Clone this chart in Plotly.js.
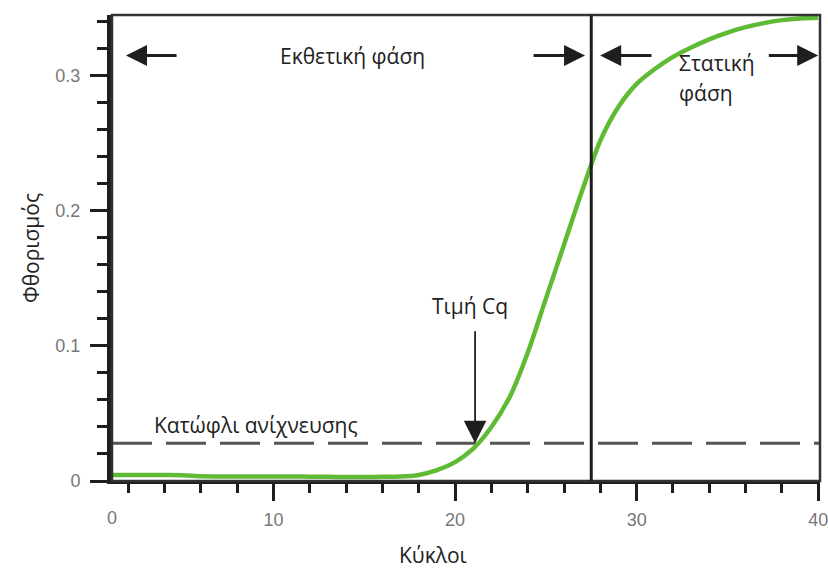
<!DOCTYPE html>
<html>
<head>
<meta charset="utf-8">
<script src="https://cdn.plot.ly/plotly-3.0.1.min.js"></script>
<style>
html,body{margin:0;padding:0;background:#fff;}
#chart{width:828px;height:570px;}
</style>
</head>
<body>
<div id="chart"></div>
<script>
// ---- data ----
const cycles = [1,2,3,4,5,6,7,8,9,10,11,12,13,14,15,16,17,18,19,20,
                21,22,23,24,25,26,27,28,29,30,31,32,33,34,35,36,37,38,39,40];
const fluorescence = [0.0044,0.0044,0.0044,0.0044,0.0043,0.0035,0.0034,0.0034,0.0033,0.0033,
                      0.0033,0.0032,0.0031,0.0030,0.0030,0.0031,0.0033,0.0045,0.0080,0.0140,
                      0.0240,0.0400,0.0620,0.0950,0.1350,0.1750,0.2150,0.2520,0.2770,0.2940,
                      0.3050,0.3140,0.3210,0.3270,0.3320,0.3360,0.3390,0.3412,0.3425,0.3430];
const thresholdLevel = 0.028;
const phaseBoundary = 27.5;
const cqValue = 21.1;
const xTitle = 'Κύκλοι';
const yTitle = 'Φθορισμός';
const xZeroLabel = '0';
const labels = {
  exp: 'Εκθετική φάση',
  plateau1: 'Στατική',
  plateau2: 'φάση',
  cq: 'Τιμή Cq',
  threshold: 'Κατώφλι ανίχνευσης'
};

const dark = '#1e1e1e';
const textFont = {family: '"Open Sans", "Noto Sans", sans-serif', size: 21, color: '#222'};
const tickFont = {family: '"Liberation Sans", Arial, sans-serif', size: 18, color: '#777'};
const arrowY = 0.315;

function arrow(tipX, tailX, y, opts) {
  return Object.assign({
    x: tipX, y: y, ax: tailX, ay: y,
    xref: 'x', yref: 'y', axref: 'x', ayref: 'y',
    text: '', showarrow: true,
    arrowhead: 2, arrowsize: 1.4, arrowwidth: 3, arrowcolor: dark,
    standoff: 0, startstandoff: 0
  }, opts || {});
}

const trace = {
  x: cycles, y: fluorescence,
  type: 'scatter', mode: 'lines',
  line: {color: '#5fbb33', width: 4.5, shape: 'spline', smoothing: 0.8},
  hoverinfo: 'skip', showlegend: false
};

const layout = {
  width: 828, height: 570,
  margin: {l: 112, r: 8, t: 15, b: 89},
  paper_bgcolor: '#fff', plot_bgcolor: '#fff',
  showlegend: false,
  xaxis: {
    range: [1.1, 40.1],
    tickmode: 'linear', tick0: 0, dtick: 10,
    ticks: 'outside', ticklen: 17, tickwidth: 3, tickcolor: dark,
    minor: {tick0: 0, dtick: 2, ticks: 'outside', ticklen: 9, tickwidth: 3, tickcolor: dark},
    showline: true, linewidth: 3, linecolor: dark,
    showgrid: false, zeroline: false,
    tickfont: tickFont,
    ticklabelstandoff: 3,
    ticklabeloverflow: 'allow'
  },
  yaxis: {
    range: [0, 0.345],
    tickmode: 'linear', tick0: 0, dtick: 0.1,
    ticks: 'outside', ticklen: 17, tickwidth: 3, tickcolor: dark,
    minor: {tick0: 0, dtick: 0.02, ticks: 'outside', ticklen: 10, tickwidth: 3, tickcolor: dark},
    showline: true, linewidth: 5, linecolor: dark,
    showgrid: false, zeroline: false,
    tickfont: tickFont,
    ticklabelstandoff: 6,
    title: {text: yTitle, font: textFont, standoff: 12}
  },
  shapes: [
    {type: 'rect', xref: 'paper', yref: 'paper', x0: 0, x1: 1, y0: 0, y1: 1,
     line: {color: '#333', width: 2.5}, layer: 'above'},
    {type: 'line', xref: 'x', yref: 'paper', x0: phaseBoundary, x1: phaseBoundary, y0: 0, y1: 1,
     line: {color: dark, width: 3}, layer: 'above'},
    {type: 'line', xref: 'paper', yref: 'y', x0: 0, x1: 1, y0: thresholdLevel, y1: thresholdLevel,
     line: {color: '#555', width: 3, dash: '40px,14px'}, layer: 'below'}
  ],
  annotations: [
    arrow(1.87, 4.74, arrowY),
    arrow(27.16, 24.24, arrowY),
    arrow(27.99, 30.9, arrowY),
    arrow(40.0, 37.2, arrowY),
    arrow(cqValue, cqValue, thresholdLevel, {ay: 0.112, arrowwidth: 1.8, arrowsize: 2.5}),
    {x: 14.33, y: arrowY, xref: 'x', yref: 'y', text: labels.exp, showarrow: false,
     font: textFont, xanchor: 'center', yanchor: 'middle'},
    {x: 32.23, y: 0.3096, xref: 'x', yref: 'y', text: labels.plateau1, showarrow: false,
     font: textFont, xanchor: 'left', yanchor: 'middle'},
    {x: 32.23, y: 0.2874, xref: 'x', yref: 'y', text: labels.plateau2, showarrow: false,
     font: textFont, xanchor: 'left', yanchor: 'middle'},
    {x: 20.83, y: 0.1296, xref: 'x', yref: 'y', text: labels.cq, showarrow: false,
     font: textFont, xanchor: 'center', yanchor: 'middle'},
    {x: 3.3, y: 0.0415, xref: 'x', yref: 'y', text: labels.threshold, showarrow: false,
     font: textFont, xanchor: 'left', yanchor: 'middle'},
    {x: 1.1, y: 0, xref: 'x', yref: 'paper', yshift: -37, text: xZeroLabel, showarrow: false,
     font: tickFont, xanchor: 'center', yanchor: 'middle'},
    {x: 0.453, y: 0, xref: 'paper', yref: 'paper', yshift: -74, text: xTitle, showarrow: false,
     font: textFont, xanchor: 'center', yanchor: 'middle'}
  ]
};

Plotly.newPlot('chart', [trace], layout, {staticPlot: true, displayModeBar: false});
</script>
</body>
</html>
